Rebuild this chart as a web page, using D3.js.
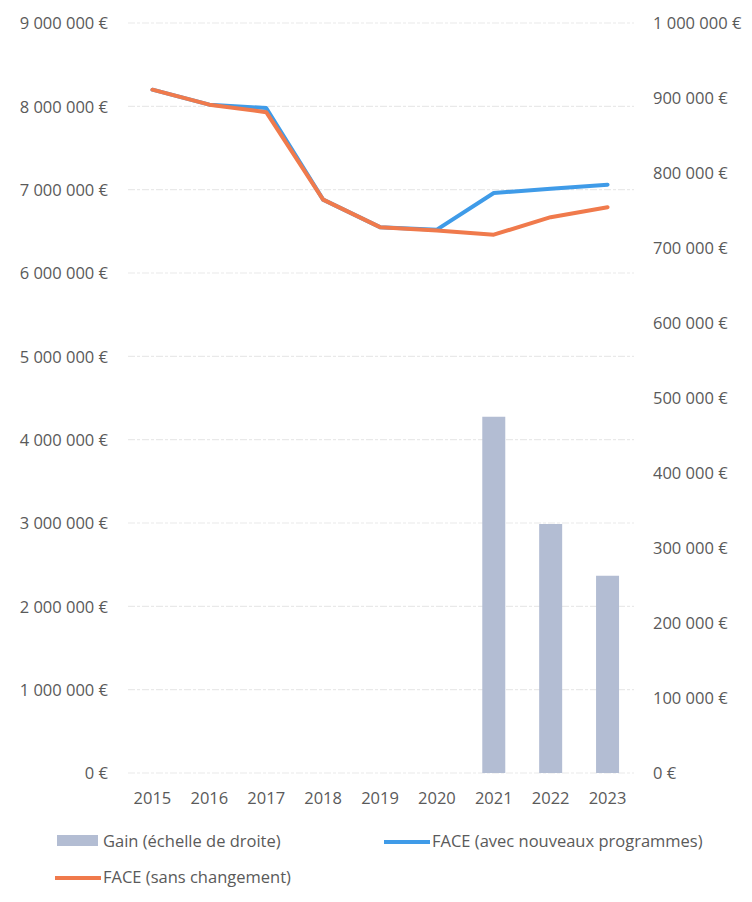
<!DOCTYPE html>
<html>
<head>
<meta charset="utf-8">
<script src="https://cdn.jsdelivr.net/npm/d3@7"></script>
<style>
  html, body { margin: 0; padding: 0; background: #fff; }
  svg text { font-family: "Open Sans", sans-serif; fill: #5a5a5a; }
</style>
</head>
<body>
<svg id="chart" width="752" height="902"></svg>
<script>
// Years on the category axis
const years = ["2015", "2016", "2017", "2018", "2019", "2020", "2021", "2022", "2023"];
// FACE forecast with the new programmes (left scale, €)
const faceNouveaux = [8200000, 8020000, 7980000, 6880000, 6550000, 6520000, 6960000, 7010000, 7060000];
// FACE forecast without change (left scale, €)
const faceSans = [8200000, 8020000, 7930000, 6880000, 6550000, 6510000, 6460000, 6670000, 6790000];
// Gain, right scale (€); no gain before 2021
const gain = [null, null, null, null, null, null, 475000, 332000, 263000];
// Axis ticks
const leftTicks = [0, 1000000, 2000000, 3000000, 4000000, 5000000, 6000000, 7000000, 8000000, 9000000];
const rightTicks = [0, 100000, 200000, 300000, 400000, 500000, 600000, 700000, 800000, 900000, 1000000];
// Legend entries
const legendLabels = ["Gain (échelle de droite)", "FACE (avec nouveaux programmes)", "FACE (sans changement)"];

const colors = { gain: "#b3bdd3", nouveaux: "#3f9be8", sans: "#f07a4c", grid: "#e9e9e9" };

const svg = d3.select("#chart");
const plot = { left: 124, right: 636, top: 23, bottom: 773 };

const x = d3.scaleBand().domain(years).range([plot.left, plot.right]).paddingInner(0.6).paddingOuter(0.3);
const xc = d => x(d) + x.bandwidth() / 2;
const yL = d3.scaleLinear().domain([0, 9000000]).range([plot.bottom, plot.top]);
const yR = d3.scaleLinear().domain([0, 1000000]).range([plot.bottom, plot.top]);

const fmt = v => d3.format(",")(v).replace(/,/g, " ") + " €";

// Horizontal gridlines from the left scale
svg.append("g")
  .selectAll("line")
  .data(leftTicks)
  .join("line")
  .attr("x1", plot.left + 4).attr("x2", plot.right - 2)
  .attr("y1", d => yL(d)).attr("y2", d => yL(d))
  .attr("stroke", colors.grid).attr("stroke-width", 1.2)
  .attr("stroke-dasharray", "7 2 3 2");

// Left axis
const axL = svg.append("g")
  .attr("transform", `translate(${plot.left},0)`)
  .call(d3.axisLeft(yL).tickValues(leftTicks).tickFormat(fmt).tickSize(0).tickPadding(16));
axL.select(".domain").remove();
axL.selectAll("text").style("font-size", "16.5px").attr("dy", "0.35em");

// Right axis
const axR = svg.append("g")
  .attr("transform", `translate(${plot.right},0)`)
  .call(d3.axisRight(yR).tickValues(rightTicks).tickFormat(fmt).tickSize(0).tickPadding(17));
axR.select(".domain").remove();
axR.selectAll("text").style("font-size", "16.5px").attr("dy", "0.35em");

// Category axis
const axX = svg.append("g")
  .attr("transform", `translate(0,${plot.bottom})`)
  .call(d3.axisBottom(x).tickSize(0).tickPadding(19));
axX.select(".domain").remove();
axX.selectAll("text").style("font-size", "16.5px");

// Gain bars on the right scale
const barW = 23;
svg.append("g")
  .selectAll("rect")
  .data(years.map((y, i) => ({ year: y, v: gain[i] })).filter(d => d.v != null))
  .join("rect")
  .attr("x", d => xc(d.year) - barW / 2)
  .attr("width", barW)
  .attr("y", d => yR(d.v))
  .attr("height", d => yR(0) - yR(d.v))
  .attr("fill", colors.gain);

// FACE lines on the left scale
const line = d3.line().x((d, i) => xc(years[i])).y(d => yL(d));
svg.append("path").datum(faceNouveaux)
  .attr("d", line).attr("fill", "none")
  .attr("stroke", colors.nouveaux).attr("stroke-width", 4)
  .attr("stroke-linejoin", "round").attr("stroke-linecap", "round");
svg.append("path").datum(faceSans)
  .attr("d", line).attr("fill", "none")
  .attr("stroke", colors.sans).attr("stroke-width", 4)
  .attr("stroke-linejoin", "round").attr("stroke-linecap", "round");

// Legend
const legend = svg.append("g").style("font-size", "16.5px");
legend.append("rect").attr("x", 57).attr("y", 835).attr("width", 41).attr("height", 11).attr("fill", colors.gain);
legend.append("text").attr("x", 103).attr("y", 841).attr("dy", "0.35em").text(legendLabels[0]);
legend.append("line").attr("x1", 384).attr("x2", 430).attr("y1", 842).attr("y2", 842)
  .attr("stroke", colors.nouveaux).attr("stroke-width", 4);
legend.append("text").attr("x", 432).attr("y", 841).attr("dy", "0.35em").text(legendLabels[1]);
legend.append("line").attr("x1", 55).attr("x2", 101).attr("y1", 878).attr("y2", 878)
  .attr("stroke", colors.sans).attr("stroke-width", 4);
legend.append("text").attr("x", 103).attr("y", 877).attr("dy", "0.35em").text(legendLabels[2]);
</script>
</body>
</html>
